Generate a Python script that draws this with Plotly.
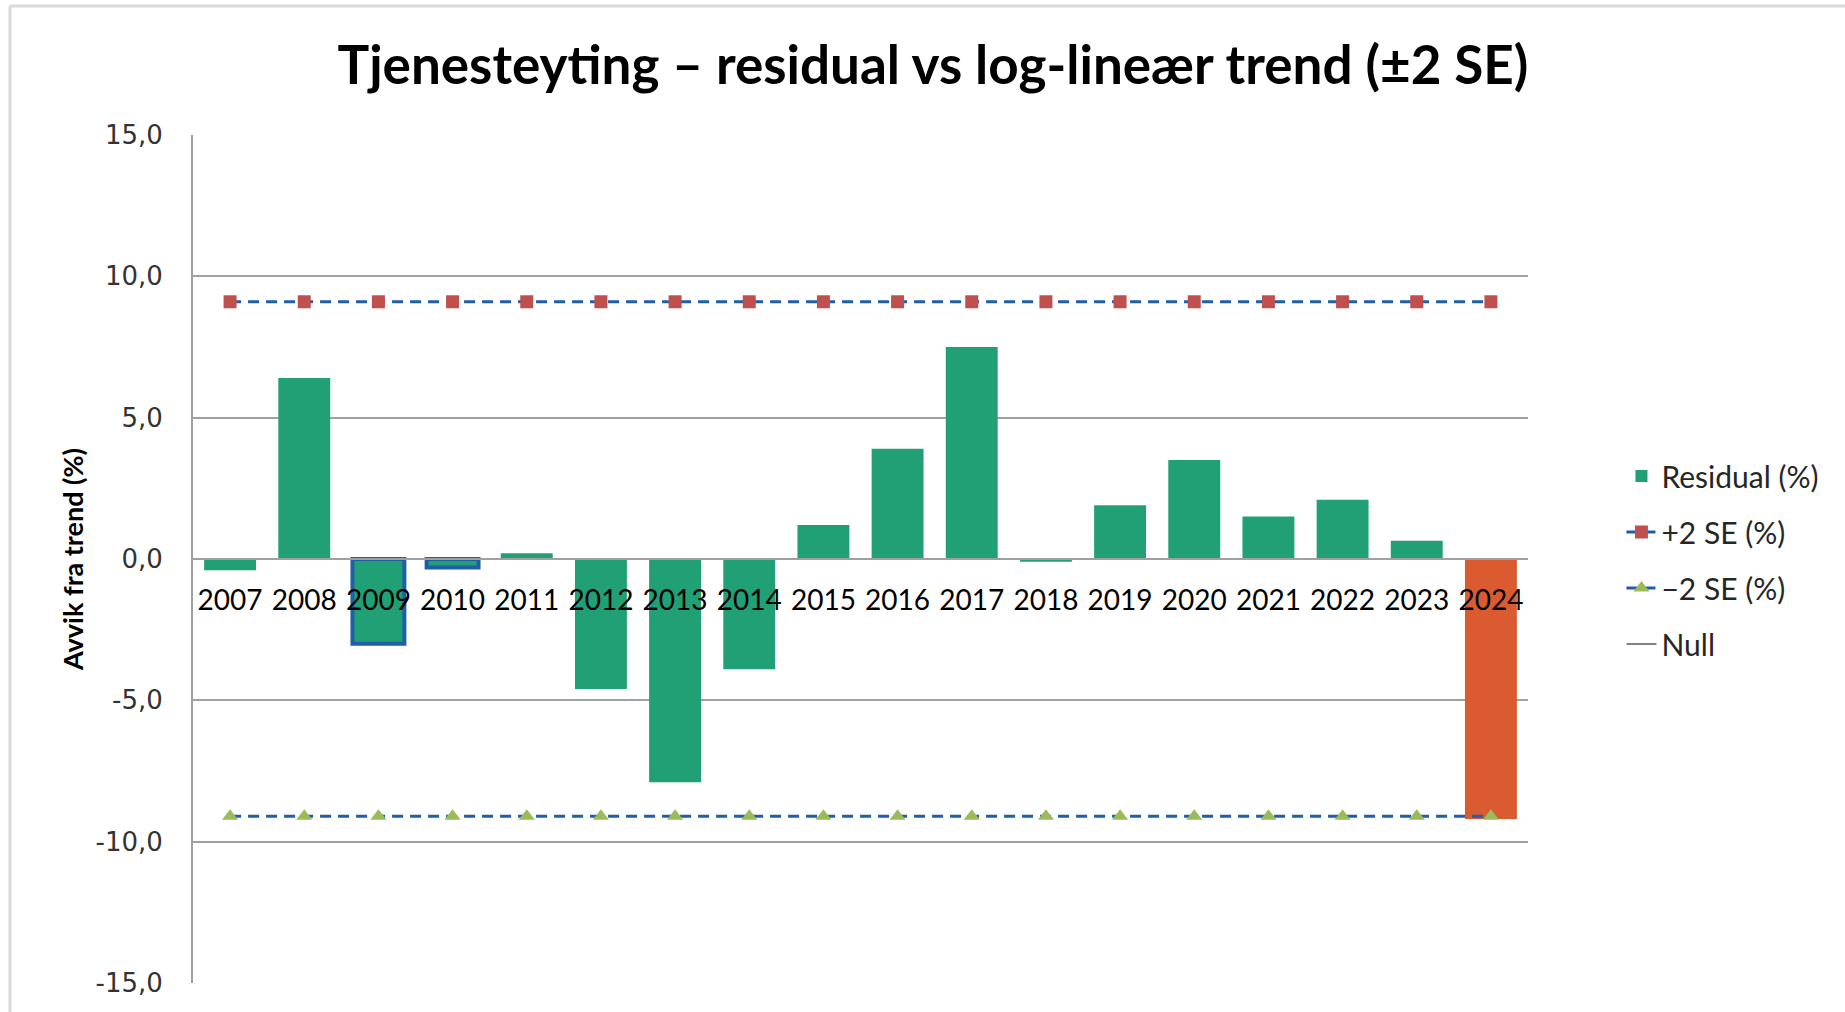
import plotly.graph_objects as go

years = [str(y) for y in range(2007, 2025)]
residual = [-0.4, 6.4, -3.0, -0.3, 0.2, -4.6, -7.9, -3.9, 1.2, 3.9,
            7.5, -0.1, 1.9, 3.5, 1.5, 2.1, 0.65, -9.2]
plus_se = [9.1] * 18
minus_se = [-9.1] * 18
null_line = [0.0] * 18

y_ticks = [-15, -10, -5, 0, 5, 10, 15]
y_tick_text = ["-15,0", "-10,0", "-5,0", "0,0", "5,0", "10,0", "15,0"]

GREEN = "#21A075"
ORANGE = "#D95B2F"
BLUE = "#1F5FA8"

bar_colors = [GREEN] * 17 + [ORANGE]
bar_line_w = [0, 0, 4, 4] + [0] * 14

# plot area in pixels (for placing the outer border)
L, R, T, B = 193, 1528, 135, 983


def px_x(p):
    return (p - L) / (R - L)


def px_y(p):
    return (B - p) / (B - T)


fig = go.Figure()

fig.add_trace(go.Bar(
    x=years, y=residual, name="Residual (%)",
    marker=dict(color=bar_colors, line=dict(color=BLUE, width=bar_line_w)),
    legendgroup="a",
))
fig.add_trace(go.Scatter(
    x=years, y=plus_se, name="+2 SE (%)", mode="lines+markers",
    line=dict(color=BLUE, width=3, dash="11px,7px"),
    marker=dict(symbol="square", size=13, color="#C0504D"),
    legendgroup="b",
))
fig.add_trace(go.Scatter(
    x=years, y=minus_se, name="\u22122 SE (%)", mode="lines+markers",
    line=dict(color=BLUE, width=3, dash="11px,7px"),
    marker=dict(symbol="triangle-up", size=14, color="#9BBB59"),
    legendgroup="c",
))
fig.add_trace(go.Scatter(
    x=years, y=null_line, name="Null", mode="lines",
    line=dict(color="#595959", width=1.5),
    legendgroup="d",
))

fig.update_layout(
    width=1845, height=1012,
    margin=dict(l=L, r=1845 - R, t=T, b=1012 - B),
    paper_bgcolor="white", plot_bgcolor="white",
    bargap=0.3,
    title=dict(
        text="<b>Tjenesteyting \u2013 residual vs log-line\u00e6r trend (\u00b12 SE)</b>",
        x=933 / 1845, xref="container", xanchor="center",
        y=1 - 65 / 1012, yanchor="middle",
        font=dict(family="Lato", size=53, color="black"),
    ),
    font=dict(family="Lato", color="black"),
    legend=dict(
        x=1.07, xanchor="left", y=px_y(450), yanchor="top",
        font=dict(family="Lato", size=30, color="#262626"),
        traceorder="grouped", tracegroupgap=14,
        bgcolor="rgba(0,0,0,0)",
    ),
    xaxis=dict(
        type="category", anchor="free", position=0.5,
        range=[-0.5, len(years) - 0.5],
        showline=True, linecolor="#A0A0A0", linewidth=2,
        showgrid=False, ticks="", ticklabelstandoff=16,
        tickfont=dict(family="Lato", size=28, color="black"),
    ),
    yaxis=dict(
        range=[-15, 15], tickvals=y_ticks, ticktext=y_tick_text,
        showgrid=True, gridcolor="#A0A0A0", gridwidth=2,
        zeroline=False, showline=True, linecolor="#A0A0A0", linewidth=2,
        ticks="", ticklabelstandoff=23,
        tickfont=dict(family="DejaVu Sans", size=26, color="#333333"),
        title=dict(text="<b>Avvik fra trend (%)</b>", standoff=4,
                   font=dict(family="Lato", size=27, color="black")),
    ),
    shapes=[
        dict(type="line", xref="paper", yref="paper",
             x0=px_x(10), x1=px_x(1845), y0=px_y(6), y1=px_y(6),
             line=dict(color="#D9D9D9", width=3)),
        dict(type="line", xref="paper", yref="paper",
             x0=px_x(10), x1=px_x(10), y0=px_y(6), y1=px_y(1012),
             line=dict(color="#D9D9D9", width=3)),
    ],
)

fig.write_html("out.html", config={"displayModeBar": False},
               post_script="document.body.style.margin='0';")
